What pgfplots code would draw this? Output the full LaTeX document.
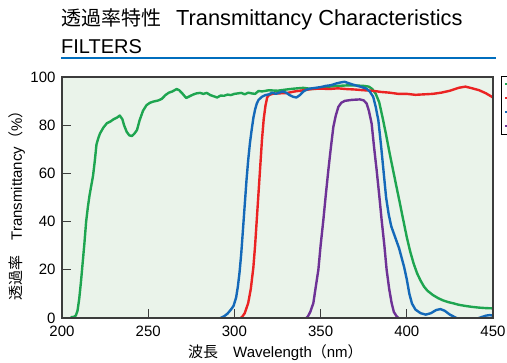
\documentclass[border=0pt]{standalone}
\usepackage{fontspec}
\setmainfont{Liberation Sans}
\newfontfamily\jp{Noto Sans CJK JP}
\usepackage{pgfplots}
\pgfplotsset{compat=1.18}
\definecolor{cgreen}{RGB}{30,165,80}
\definecolor{cred}{RGB}{235,35,35}
\definecolor{cblue}{RGB}{20,105,185}
\definecolor{cpurple}{RGB}{110,50,150}
\definecolor{cbg}{RGB}{234,243,234}
\definecolor{crule}{RGB}{0,110,190}
\definecolor{cframe}{RGB}{60,60,60}
\begin{document}
\begin{tikzpicture}
\clip (0bp,0bp) rectangle (507bp,363bp);
\useasboundingbox (0bp,0bp) rectangle (507bp,363bp);
% titles
\node[anchor=base west,inner sep=0pt,font=\fontsize{20bp}{24bp}\selectfont] at (61bp,337bp) {\jp 透過率特性};
\node[anchor=base west,inner sep=0pt,font=\fontsize{21.8bp}{24bp}\selectfont] at (176bp,337bp) {Transmittancy Characteristics};
\node[anchor=base west,inner sep=0pt,font=\fontsize{20bp}{24bp}\selectfont] at (61bp,309bp) {FILTERS};
\draw[crule,line width=2bp] (61bp,304.5bp) -- (496bp,304.5bp);
\begin{axis}[
  at={(62bp,45bp)}, anchor=south west,
  scale only axis, width=431bp, height=241bp,
  xmin=200, xmax=450, ymin=0, ymax=100,
  xtick={200,250,...,450}, ytick={0,20,...,100},
  tick align=inside, xtick pos=bottom, ytick pos=left,
  major tick length=9bp,
  tick style={cframe, line width=1bp},
  axis line style={cframe, line width=1.2bp},
  axis background/.style={fill=cbg},
  axis on top,
  /pgf/number format/assume math mode=true,
  ticklabel style={font=\fontsize{15bp}{18bp}\selectfont},
  xticklabel style={yshift=-5bp},
  yticklabel style={xshift=-3bp},
  legend style={at={(rel axis cs:1,1)}, anchor=north west, xshift=8bp, yshift=1bp,
    draw=black, fill=white, font=\fontsize{10bp}{12bp}\selectfont, row sep=1.5bp},
  legend image code/.code={\draw[#1,line width=2bp] (0bp,0bp) -- (2.5bp,0bp);},
  every axis plot/.append style={line width=2.4bp, line join=round},
]
\addplot[cgreen] coordinates {
(205,0.3)(207,0.5)(208,1)(209,3)(210,8)(211,15)(212,23)(213,31)(214,40)(215,46)(216,51)(217,55)(218,59)(219,65)(220,72)(221,74.5)(222,76.5)(224,79)(226,80.8)(228,81.5)(230,82.5)(232,83.2)(233.5,84)(235,82.5)(236,80)(237.5,77.3)(239,75.8)(240.5,75.5)(242,76.5)(243.5,78)(245,82)(247,86)(249,88.3)(251,89.3)(253,89.8)(256,90.3)(258,91)(260,92.5)(262,93.5)(264,94)(266.5,95)(268,94.5)(270,93)(272,91.3)(274,92)(276,92.7)(278,93.2)(280,93.4)(282,93)(284,93.4)(286,92.5)(288,92)(290,91.5)(292,92.3)(294,92.2)(296,92.7)(298,92.5)(300,93)(302,93.2)(304,93.4)(306,92.8)(308,93.5)(310,93.2)(312,93)(314,94.2)(316,94)(320,94.5)(325,94.3)(330,94.8)(335,95.2)(340,95.5)(345,95)(350,95.5)(355,96)(360,96.3)(365,96.5)(370,96.5)(375,96.3)(378,96)(380,95)(382,93)(384,89.5)(386,83)(388,76)(390,68.5)(392,61.5)(394,54.5)(396,47.6)(398,40.5)(400,33.5)(402,27.5)(404,22.5)(406,18.5)(408,15.5)(410,13)(412,11.3)(415,9.6)(418,8.3)(421,7.3)(424,6.6)(427,6.1)(430,5.5)(434,5)(438,4.6)(442,4.3)(446,4.1)(450,4)
};
\addlegendentry{\phantom{X}}
\addplot[cred] coordinates {
(303,-0.5)(304.5,0.5)(306,2)(308,6.2)(309.5,12)(311,21)(312,30)(313,41)(314,52)(315,63)(316,74)(317,82.5)(318,88)(319,91.5)(320,92.5)(322,93)(325,93.2)(330,93.3)(335,94)(340,94.5)(345,95)(350,95.2)(355,95)(360,95.3)(365,95)(370,94.8)(375,94.5)(380,94.3)(385,93.8)(390,93.5)(395,93)(400,93)(405,92.6)(410,92.8)(415,93)(420,93.5)(425,94.3)(430,95.5)(434,96)(438,95.3)(442,94.5)(446,93.2)(450,91.5)
};
\addlegendentry{\phantom{X}}
\addplot[cblue] coordinates {
(290,-0.5)(292,0)(294,0.7)(296,1.8)(298,3.5)(299.5,5)(301,8.5)(302,13)(303,19)(304,27)(305,37)(306,47)(307,57)(308,65.5)(309,72.5)(310,78)(311,83)(312,86.5)(313,89)(314,90.5)(316,91.8)(318,92.5)(320,92.8)(322,93.5)(324,93)(326,93.5)(328,94)(330,93.5)(332,92.5)(334,91.8)(336,91.5)(338,92.5)(340,94)(342,94.8)(344,95.2)(347,95.5)(350,95.8)(353,96.3)(356,96.6)(359,97.3)(362,97.8)(364,98)(366,97.5)(368,97)(370,96.6)(373,96)(376.5,95.2)(378.5,94)(380.5,91.8)(382,87.5)(383.5,82)(385,72)(386.5,61)(388,50)(389.5,43)(391,38)(392.5,35)(394,32)(395.5,29)(397,25)(398.5,21)(400,16)(401.5,10)(403,6)(405,3.5)(408,2)(411,1.4)(414,2)(417,3.3)(419.5,3.7)(422,3)(425,1.4)(428,0.3)(430,-0.5)(440,-0.5)(443,0.3)(446,1)(448,1.2)(450,1)
};
\addlegendentry{\phantom{X}}
\addplot[cpurple] coordinates {
(341,-0.5)(342.5,0.5)(344,2.5)(345.8,6.2)(347,12)(348.7,20)(350,30)(351.6,40.7)(353,51)(354.5,61.4)(356,71)(357.4,79.3)(358.8,84)(360.3,87.6)(362,89.3)(364.1,90.1)(368,90.5)(372.8,90.7)(375,90.3)(376.7,89)(378,86)(379.6,80.7)(381,71)(382.5,61.4)(384,51)(385.4,40.7)(387,30)(388.3,20)(389.8,12)(391.2,6.2)(392.5,2.5)(394.1,0.7)(396,-0.5)
};
\addlegendentry{\phantom{X}}
\end{axis}
\node[anchor=base west,inner sep=0pt,font=\fontsize{15bp}{18bp}\selectfont] at (188bp,6bp) {{\jp 波長　}Wavelength{\jp （}nm{\jp ）}};
\node[rotate=90,inner sep=0pt,font=\fontsize{15bp}{18bp}\selectfont] at (17bp,161bp) {{\jp 透過率　}Transmittancy{\jp （}\%{\jp ）}};
\end{tikzpicture}
\end{document}
